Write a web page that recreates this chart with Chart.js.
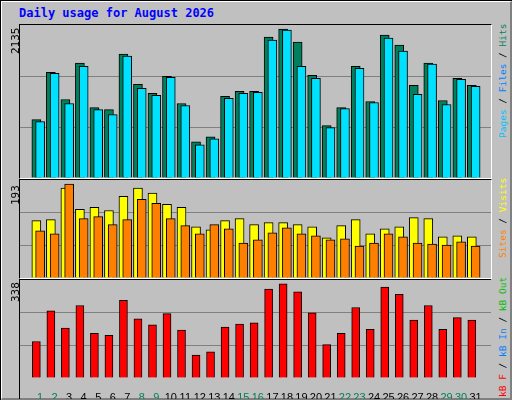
<!DOCTYPE html>
<html>
<head>
<meta charset="utf-8">
<script src="https://cdn.jsdelivr.net/npm/chart.js@4"></script>
<style>
  body { margin: 0; background: #fff; }
  #frame { position: absolute; left: 0; top: 0; width: 508px; height: 396px; background: #c0c0c0;
    border-style: solid; border-width: 2px 4px 4px 2px; border-color: #fff #808080 #808080 #fff; outline: 1px solid #000; outline-offset: -1px; }
  .panel { position: absolute; left: 19px; width: 471px; border-style: solid; border-width: 1px;
    border-color: #000 #fff #fff #000; }
  canvas { display: block; }
  .t { position: absolute; font-family: "DejaVu Sans Mono", monospace; font-size: 11px; white-space: nowrap; }
  .rot { transform-origin: 0 0; transform: rotate(-90deg); }
  .lg { font-size: 9.5px; }
</style>
</head>
<body>
<div id="frame"></div>
<div class="t" style="left:19px;top:6px;color:#0000ff;font-weight:bold;font-size:12px">Daily usage for August 2026</div>

<div class="panel" style="top:24px;height:153px"><canvas id="c1"></canvas></div>
<div class="panel" style="top:179px;height:98px"><canvas id="c2"></canvas></div>
<div class="panel" style="top:279px;height:119px;border-bottom:none;border-right:none"><canvas id="c3"></canvas></div>

<div class="t rot" style="left:9px;top:54px">2135</div>
<div class="t rot" style="left:9px;top:205px">193</div>
<div class="t rot" style="left:9px;top:302px">338</div>

<div class="t rot lg" style="left:497px;top:138px"><span style="color:#00c0ff">Pages</span> / <span style="color:#0080ff">Files</span> / <span style="color:#00805c">Hits</span></div>
<div class="t rot lg" style="left:497px;top:258px"><span style="color:#ff8000">Sites</span> / <span style="color:#ffff00">Visits</span></div>
<div class="t rot lg" style="left:497px;top:397px"><span style="color:#ff0000">kB F</span> / <span style="color:#0080ff">kB In</span> / <span style="color:#00c000">kB Out</span></div>

<script>
const days = Array.from({ length: 31 }, (_, i) => i + 1);
const weekend = [1, 2, 8, 9, 15, 16, 22, 23, 29, 30];

const hits = [815, 1475, 1096, 1602, 983, 955, 1728, 1307, 1180, 1419, 1040, 506, 576, 1138, 1208, 1208,
  1967, 2079, 1897, 1433, 731, 983, 1560, 1068, 1995, 1855, 1293, 1602, 1082, 1391, 1293];
const files = [787, 1461, 1040, 1560, 955, 885, 1700, 1250, 1152, 1405, 1012, 464, 548, 1110, 1180, 1194,
  1925, 2065, 1560, 1391, 703, 969, 1531, 1054, 1953, 1770, 1166, 1588, 1026, 1377, 1278];
const visits = [113, 115, 177, 135, 139, 133, 161, 177, 167, 145, 139, 101, 95, 113, 117, 105,
  109, 109, 105, 101, 79, 103, 115, 87, 97, 101, 119, 117, 81, 83, 81];
const sites = [93, 87, 185, 117, 121, 105, 115, 155, 147, 117, 103, 87, 105, 97, 69, 75,
  89, 99, 87, 83, 75, 77, 63, 69, 87, 81, 69, 67, 65, 71, 63];
const kbytes = [126, 232, 172, 250, 154, 147, 268, 204, 183, 222, 165, 79, 90, 176, 186, 190,
  307, 325, 297, 225, 115, 154, 243, 168, 314, 289, 200, 250, 168, 208, 200];
const maxHits = 2135, maxVisits = 193, maxKB = 338;

const X_MIN = 0.267, X_MAX = 31.667;
const pts = (arr, off) => arr.map((v, i) => ({ x: days[i] + off, y: v }));

function bar(label, data, color, off, order, thick) {
  return { label, data: pts(data, off), backgroundColor: color, borderColor: '#000', borderWidth: 1,
    barThickness: thick || 9, grouped: false, order };
}

function makeChart(id, w, h, datasets, max, withTicks) {
  const cv = document.getElementById(id);
  cv.width = w; cv.height = h;
  return new Chart(cv, {
    type: 'bar',
    data: { datasets },
    options: {
      responsive: false, animation: false,
      plugins: { legend: { display: false }, tooltip: { enabled: false } },
      layout: { padding: 0 },
      scales: {
        x: {
          type: 'linear', min: X_MIN, max: X_MAX, display: withTicks,
          grid: { display: false }, border: { display: false },
          afterBuildTicks: s => { s.ticks = days.map(d => ({ value: d + 0.13 })); },
          afterFit: s => { s.height = withTicks ? 21 : 0; },
          ticks: {
            autoSkip: false, maxRotation: 0, padding: 5,
            font: { family: 'Liberation Sans', size: 11 },
            color: c => weekend.includes(c.index + 1) ? '#00805c' : '#000',
            callback: (v, i) => String(days[i])
          }
        },
        y: {
          min: 0, max, display: true,
          afterBuildTicks: s => { s.ticks = [0, max / 3, max * 2 / 3, max].map(v => ({ value: v })); },
          afterFit: s => { s.width = 0; },
          ticks: { display: false },
          border: { display: false },
          grid: { drawTicks: false, lineWidth: 1, color: c => (c.index === 1 || c.index === 2) ? '#808080' : 'rgba(0,0,0,0)' }
        }
      }
    }
  });
}

makeChart('c1', 471, 153, [
  bar('Hits', hits, '#00805c', -0.13, 2),
  bar('Files', files, '#00e0ff', 0.13, 1)
], maxHits, false);

makeChart('c2', 471, 98, [
  bar('Visits', visits, '#ffff00', -0.13, 2),
  bar('Sites', sites, '#ff8000', 0.13, 1)
], maxVisits, false);

makeChart('c3', 471, 119, [
  bar('kB F', kbytes, '#ff0000', -0.13, 1, 8)
], maxKB, true);
</script>
</body>
</html>
